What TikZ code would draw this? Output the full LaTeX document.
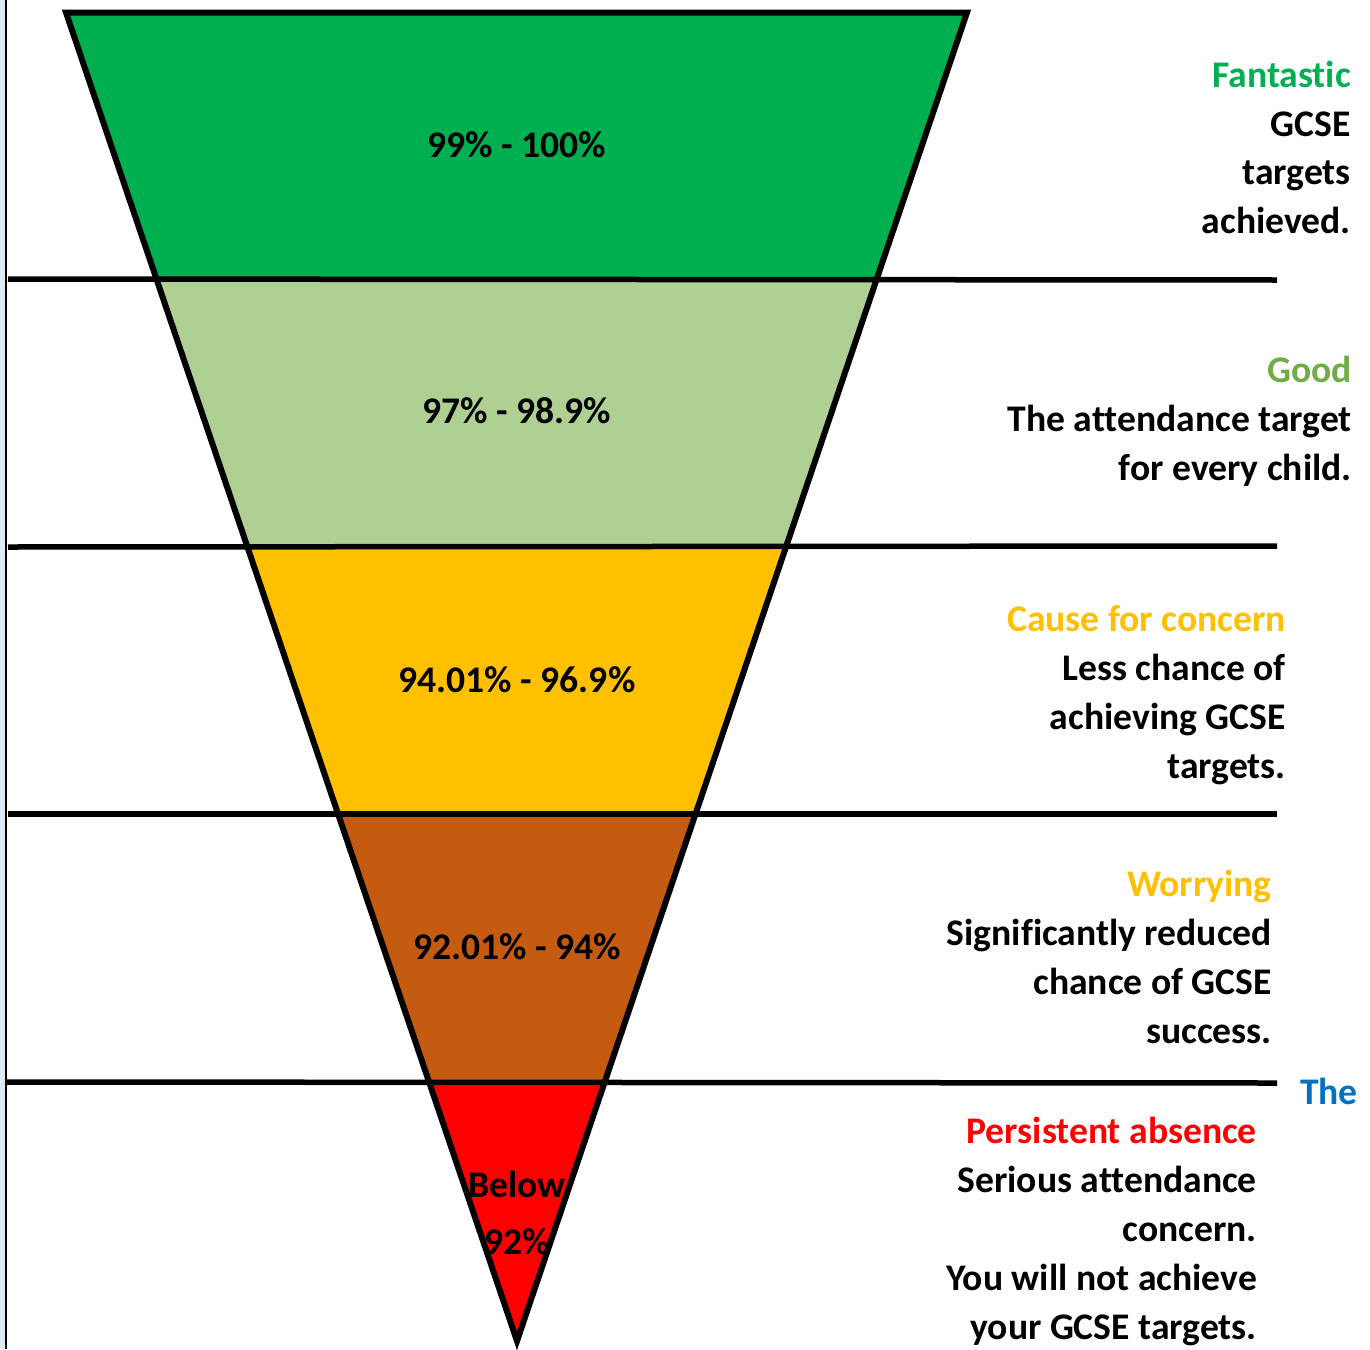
\documentclass[tikz,border=0pt]{standalone}
\usepackage{fontspec}
\setmainfont{Carlito}[Ligatures={NoCommon}]
\usetikzlibrary{calc}
\definecolor{cGreen}{HTML}{00B050}
\definecolor{cLight}{HTML}{AED193}
\definecolor{cYellow}{HTML}{FFC000}
\definecolor{cBrown}{HTML}{C55A11}
\definecolor{cRed}{HTML}{FF0000}
\definecolor{cGood}{HTML}{70AD47}
\definecolor{cBlue}{HTML}{0070C0}
\definecolor{cStrip}{HTML}{DEEAF6}
\begin{document}
\begin{tikzpicture}[x=1pt,y=-1pt,
  txt/.style={font=\bfseries\fontsize{37.6}{44}\selectfont, inner sep=0pt, anchor=base east},
  pct/.style={font=\bfseries\fontsize{37.6}{44}\selectfont, inner sep=0pt, anchor=base},
  band/.style={line width=5.5pt},
  edge/.style={line width=6pt, line join=miter}]
\useasboundingbox (0,0) rectangle (1370,1349);
\fill[white] (0,0) rectangle (1370,1349);
% left strip
\fill[cStrip] (0,0) rectangle (5,1349);
\draw[line width=2.3pt] (6.3,0) -- (6.3,1349);
% triangle corners
\coordinate (TL) at (66,12.5);
\coordinate (TR) at (967,12.5);
\coordinate (TIP) at (517,1341);
% band fills
\fill[cGreen] (TL) -- (TR) -- ($(TR)!{(279-12.5)/(1341-12.5)}!(TIP)$) -- ($(TL)!{(279-12.5)/(1341-12.5)}!(TIP)$) -- cycle;
\fill[cLight] ($(TL)!{(279-12.5)/(1341-12.5)}!(TIP)$) -- ($(TR)!{(279-12.5)/(1341-12.5)}!(TIP)$) -- ($(TR)!{(546-12.5)/(1341-12.5)}!(TIP)$) -- ($(TL)!{(546-12.5)/(1341-12.5)}!(TIP)$) -- cycle;
\fill[cYellow] ($(TL)!{(546-12.5)/(1341-12.5)}!(TIP)$) -- ($(TR)!{(546-12.5)/(1341-12.5)}!(TIP)$) -- ($(TR)!{(814-12.5)/(1341-12.5)}!(TIP)$) -- ($(TL)!{(814-12.5)/(1341-12.5)}!(TIP)$) -- cycle;
\fill[cBrown] ($(TL)!{(814-12.5)/(1341-12.5)}!(TIP)$) -- ($(TR)!{(814-12.5)/(1341-12.5)}!(TIP)$) -- ($(TR)!{(1082-12.5)/(1341-12.5)}!(TIP)$) -- ($(TL)!{(1082-12.5)/(1341-12.5)}!(TIP)$) -- cycle;
\fill[cRed] ($(TL)!{(1082-12.5)/(1341-12.5)}!(TIP)$) -- ($(TR)!{(1082-12.5)/(1341-12.5)}!(TIP)$) -- (TIP) -- cycle;
% outline
\draw[edge] (TL) -- (TR) -- (TIP) -- cycle;
% horizontal lines
\coordinate (h1a) at (8,279); \coordinate (h1b) at (1277,280);
\coordinate (h2a) at (8,547); \coordinate (h2b) at (1277,546);
\coordinate (h3a) at (8,814); \coordinate (h3b) at (1277,814);
\coordinate (h4a) at (6,1082); \coordinate (h4b) at (1277,1083);
\draw[band] (h1a) -- (h1b);
\draw[band] (h2a) -- (h2b);
\draw[band] (h3a) -- (h3b);
\draw[band] (h4a) -- (h4b);
% percentages
\node[pct] (p1) at (517,157) {99\% - 100\%};
\node[pct] (p2) at (517,423) {97\% - 98.9\%};
\node[pct] (p3) at (517,692) {94.01\% - 96.9\%};
\node[pct] (p4) at (517,959) {92.01\% - 94\%};
\node[pct] (p5a) at (517,1197) {Below};
\node[pct] (p5b) at (517,1254) {92\%};
% block 1
\node[txt, text=cGreen] (a1) at (1351,87) {Fantastic};
\node[txt] (a2) at (1351,136) {GCSE};
\node[txt] (a3) at (1351,184) {targets};
\node[txt] (a4) at (1351,233) {achieved.};
% block 2
\node[txt, text=cGood] (b1) at (1352,382) {Good};
\node[txt] (b2) at (1352,431) {The attendance target};
\node[txt] (b3) at (1352,480) {for every child.};
% block 3
\node[txt, text=cYellow] (c1) at (1286,631) {Cause for concern};
\node[txt] (c2) at (1286,680) {Less chance of};
\node[txt] (c3) at (1286,729) {achieving GCSE};
\node[txt] (c4) at (1286,778) {targets.};
% block 4
\node[txt, text=cYellow] (d1) at (1272,896) {Worrying};
\node[txt] (d2) at (1272,945) {Significantly reduced};
\node[txt] (d3) at (1272,994) {chance of GCSE};
\node[txt] (d4) at (1272,1043) {success.};
% stray word
\node[txt, text=cBlue] (the) at (1358,1104) {The};
% block 5
\node[txt, text=cRed] (e1) at (1257,1143) {Persistent absence};
\node[txt] (e2) at (1257,1192) {Serious attendance};
\node[txt] (e3) at (1257,1241) {concern.};
\node[txt] (e4) at (1257,1290) {You will not achieve};
\node[txt] (e5) at (1257,1339) {your GCSE targets.};
\end{tikzpicture}
\end{document}
